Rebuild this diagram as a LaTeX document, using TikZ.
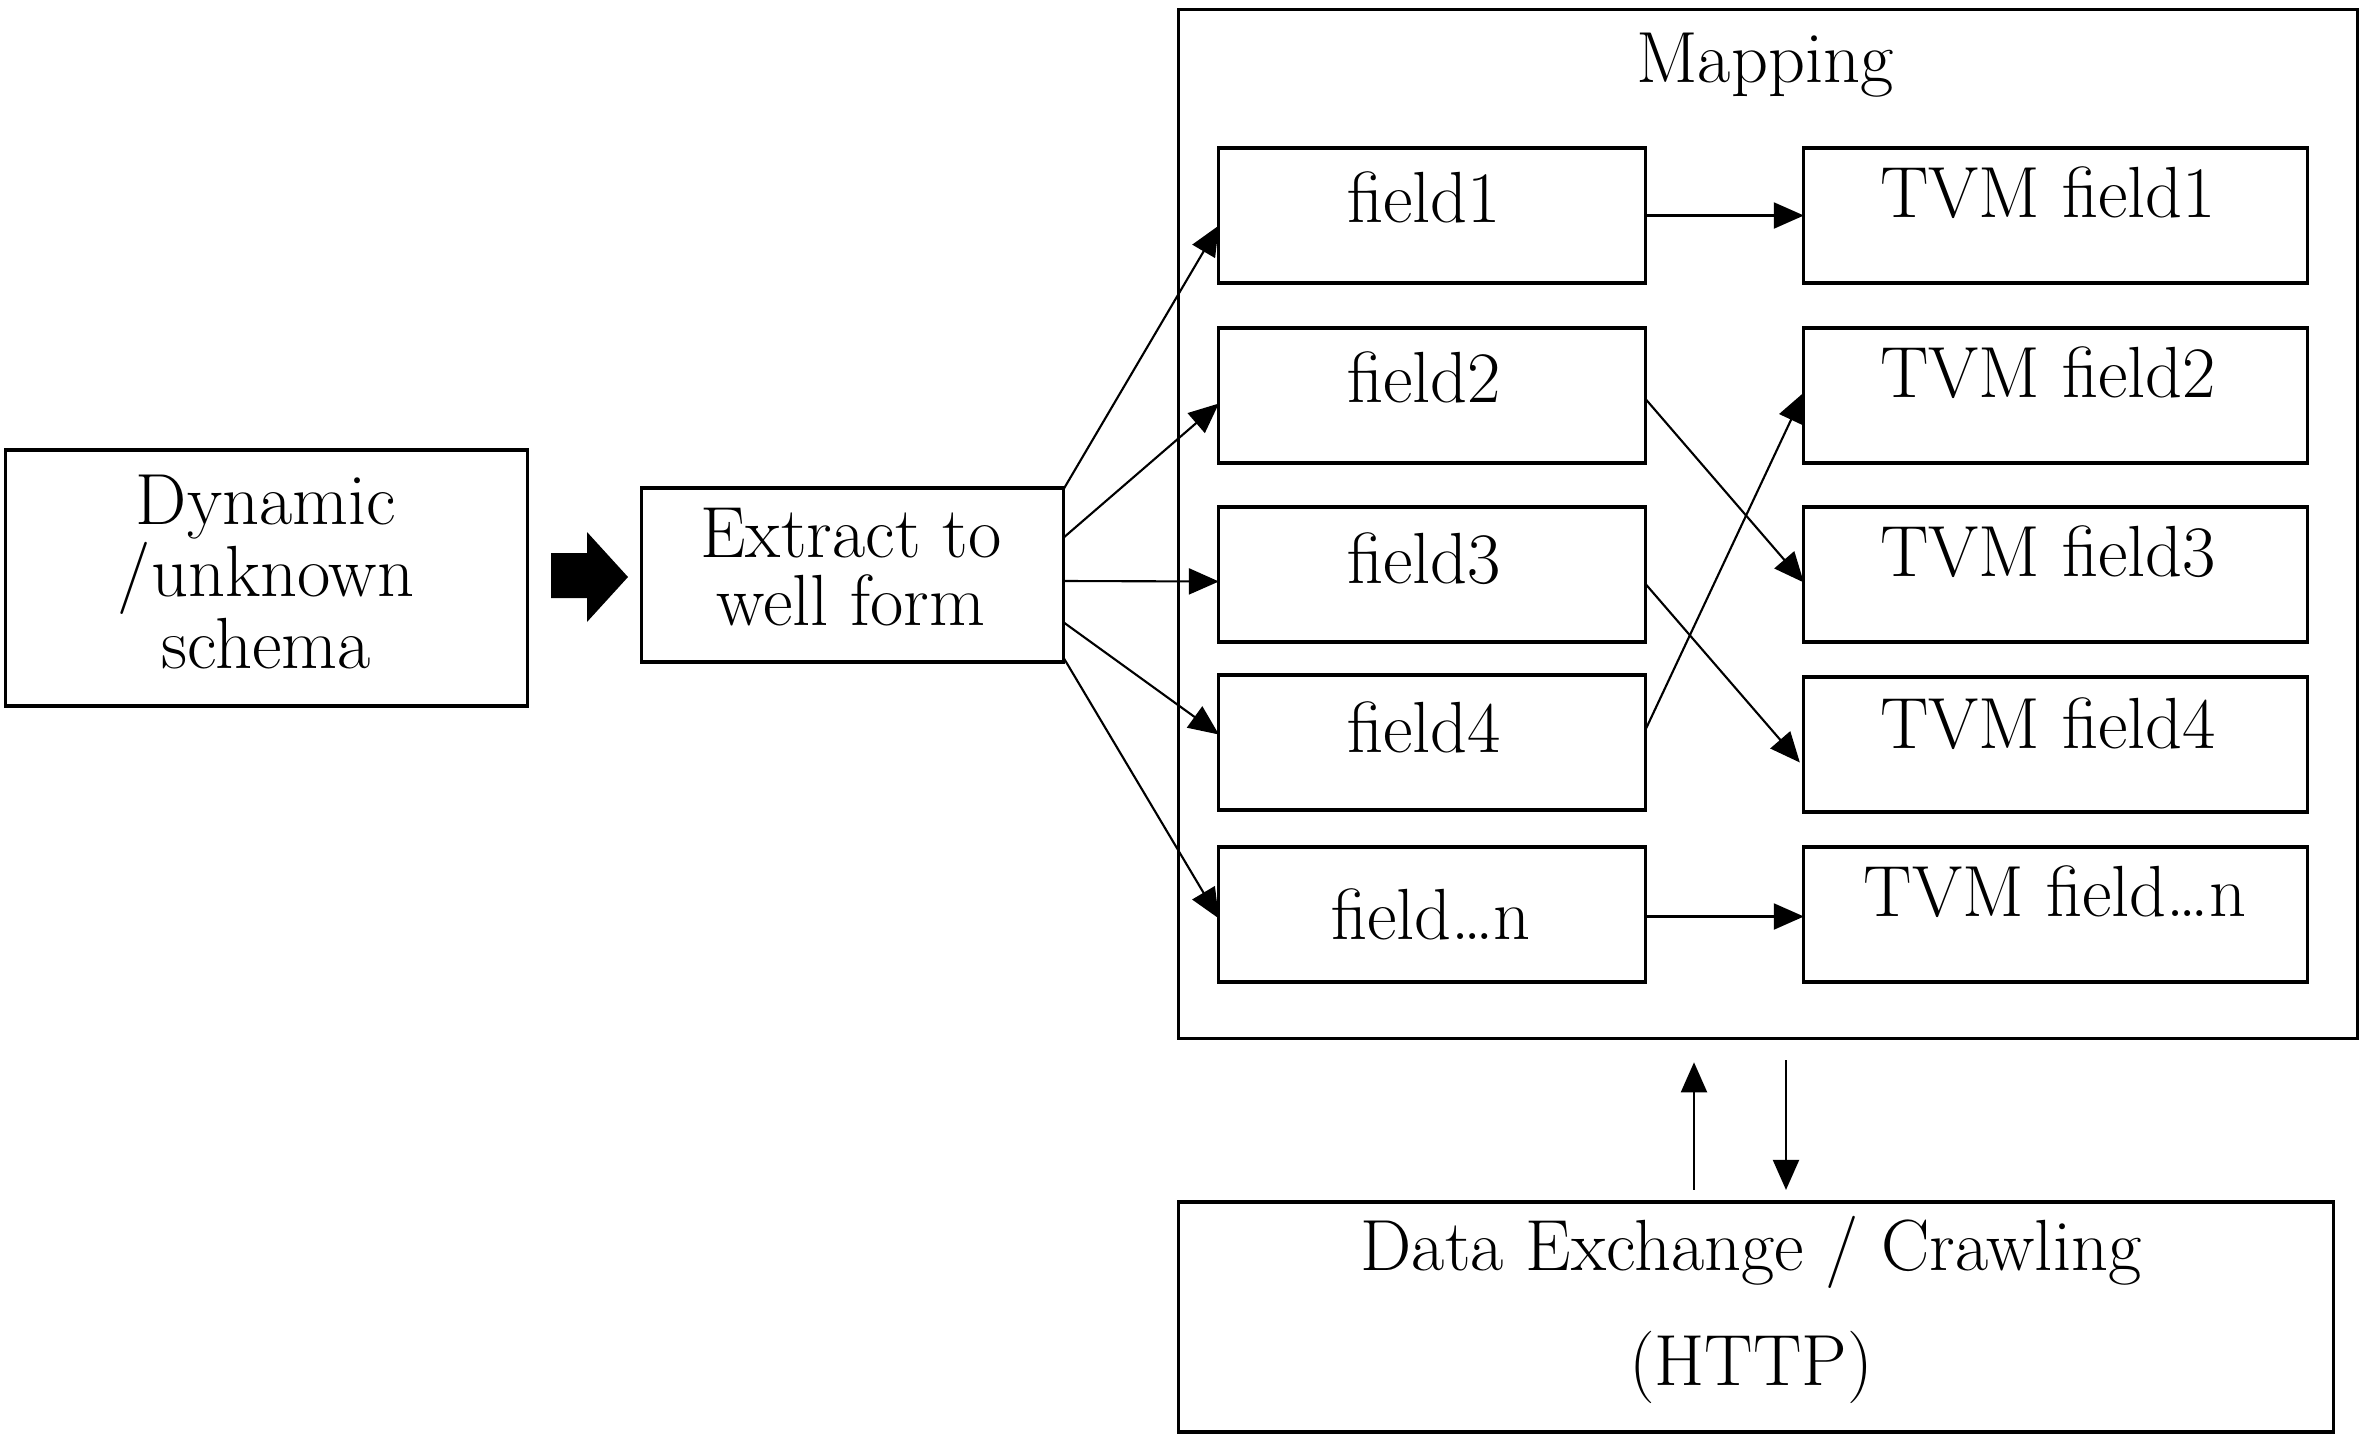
\documentclass[tikz,border=0pt]{standalone}
\usetikzlibrary{arrows.meta,calc}
\begin{document}
\begin{tikzpicture}[x=0.01cm,y=-0.01cm,
  box/.style={draw, line width=0.9pt, inner sep=0pt, outer sep=0pt},
  fbox/.style={box, minimum width=4.26cm, minimum height=1.35cm},
  tbox/.style={box, minimum width=5.03cm, minimum height=1.35cm},
  txt/.style={inner sep=0pt, font=\fontsize{20.6}{21}\selectfont},
  conn/.style={line width=0.6pt, -{Triangle[length=0.3cm,width=0.26cm]}},
]
\useasboundingbox (0,0) rectangle (2362,1439);
% outer boxes
\node[box, minimum width=5.21cm, minimum height=2.56cm] (dyn) at (266.5,578) {};
\node[box, minimum width=4.21cm, minimum height=1.74cm] (ext) at (852.5,575) {};
\node[box, line width=0.7pt, minimum width=11.78cm, minimum height=10.28cm] (map) at (1768,524) {};
\node[box, minimum width=11.54cm, minimum height=2.30cm] (data) at (1756,1317) {};
% field boxes
\node[fbox] (f1) at (1432,215.5) {};
\node[fbox] (f2) at (1432,395.5) {};
\node[fbox] (f3) at (1432,574.5) {};
\node[fbox] (f4) at (1432,742.5) {};
\node[fbox] (fn) at (1432,914.5) {};
\node[tbox] (t1) at (2055.5,215.5) {};
\node[tbox] (t2) at (2055.5,395.5) {};
\node[tbox] (t3) at (2055.5,574.5) {};
\node[tbox] (t4) at (2055.5,744.5) {};
\node[tbox] (tn) at (2055.5,914.5) {};
% texts
\node[txt, align=center, font=\fontsize{20.6}{20.5}\selectfont] (dyn-t) at (266,572) {Dynamic\\/unknown\\schema};
\node[txt, align=center, font=\fontsize{20.6}{19.35}\selectfont] (ext-t) at (851,567) {Extract to\\well form};
\node[txt, align=center, font=\fontsize{20.6}{32.7}\selectfont] (data-t) at (1751,1310) {Data Exchange / Crawling\\(HTTP)};
\node[txt, anchor=base] (map-t) at (1765,82) {Mapping};
\node[txt, anchor=base] (f1-t) at (1424,222) {field1};
\node[txt, anchor=base] (f2-t) at (1424,402) {field2};
\node[txt, anchor=base] (f3-t) at (1424,583) {field3};
\node[txt, anchor=base] (f4-t) at (1424,752) {field4};
\node[txt, anchor=base] (fn-t) at (1431,939) {field…n};
\node[txt, anchor=base] (t1-t) at (2048,217) {TVM field1};
\node[txt, anchor=base] (t2-t) at (2048,397) {TVM field2};
\node[txt, anchor=base] (t3-t) at (2048,576) {TVM field3};
\node[txt, anchor=base] (t4-t) at (2048,748) {TVM field4};
\node[txt, anchor=base] (tn-t) at (2055,916) {TVM field…n};
% block arrow
\fill (551,553) -- (587,553) -- (587,532) -- (628,577) -- (587,622) -- (587,598) -- (551,598) -- cycle;
% extract -> fields
\draw[conn] ($(ext.north east)+(0,2)$) -- ($(f1.west)+(0,10)$);
\draw[conn] ($(ext.east)+(0,-37)$) -- ($(f2.west)+(0,8)$);
\draw[conn] ($(ext.east)+(0,6)$) -- ($(f3.west)+(0,7)$);
\draw[conn] ($(ext.east)+(0,47)$) -- ($(f4.west)+(0,-8)$);
\draw[conn] ($(ext.east)+(0,82)$) -- ($(fn.west)+(0,4)$);
% fields -> TVM
\draw[conn] (f1.east) -- (t1.west);
\draw[conn] ($(f2.east)+(0,3)$) -- ($(t3.west)+(0,8)$);
\draw[conn] ($(f3.east)+(0,9)$) -- ($(t4.west)+(-4,18)$);
\draw[conn] ($(f4.east)+(0,-12)$) -- ($(t2.west)+(0,-3)$);
\draw[conn] ($(fn.east)+(0,2)$) -- ($(tn.west)+(0,2)$);
% mapping <-> data exchange
\draw[conn] ($(data.north)+(-62,-12)$) -- ($(map.south)+(-74,24)$);
\draw[conn] ($(map.south)+(18,22)$) -- ($(data.north)+(30,-12)$);
\end{tikzpicture}
\end{document}
